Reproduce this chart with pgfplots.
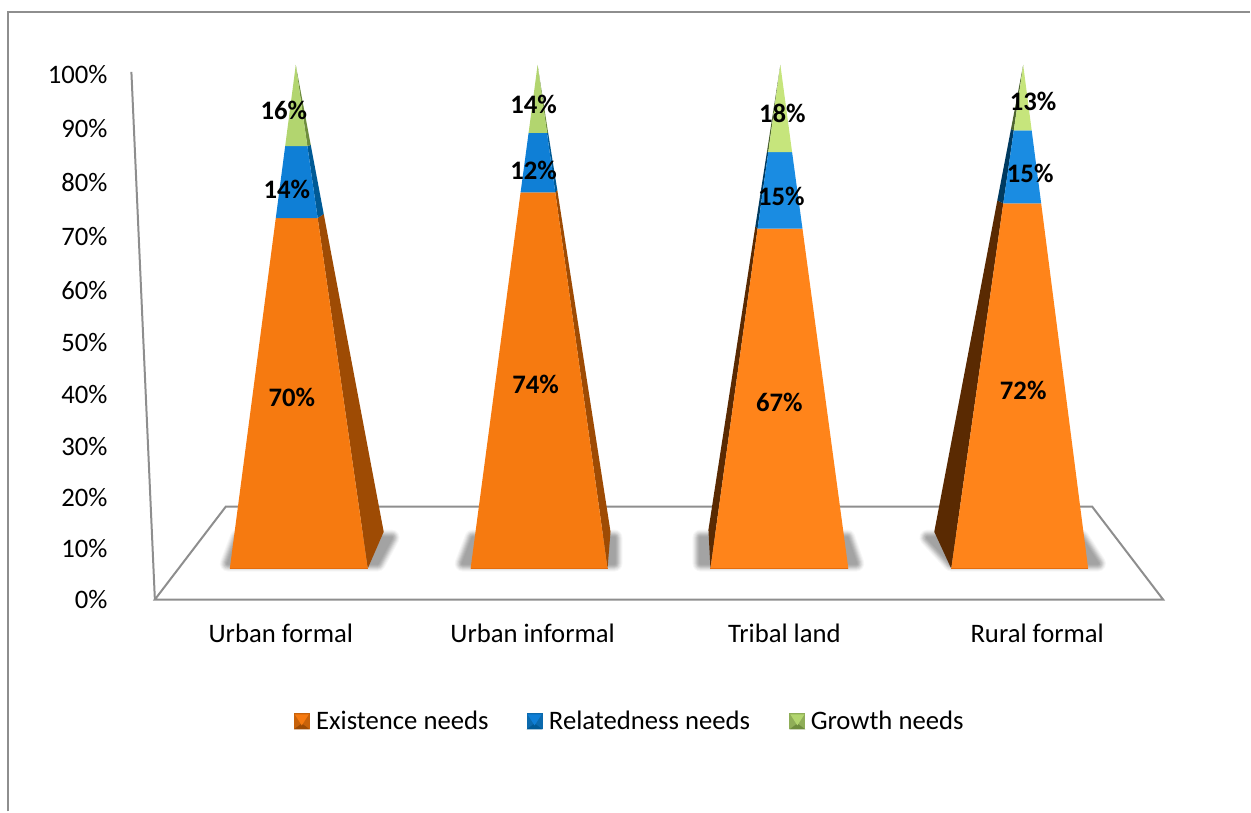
\documentclass[border=0pt]{standalone}
\usepackage{fontspec}
\setmainfont{Carlito}
\usepackage{pgfplots}
\usepackage{pgfplotstable}
\pgfplotsset{compat=1.18}

% x is in reference pixels, 1 px = 0.5pt
\pgfplotstableread{
x     y    v
292   33.9 70
287   75.2 14
284   90.9 16
536   36.5 74
534   79.0 12
534   92.1 14
780   32.9 67
782   73.8 15
783   90.3 18
1024  35.3 72
1031  78.4 15
1034  92.7 13
}\labeldata

\definecolor{axisgray}{HTML}{8E8E8E}
\definecolor{oA}{HTML}{F67A10}
\definecolor{oB}{HTML}{FF841A}
\definecolor{bA}{HTML}{0F7FD6}
\definecolor{bB}{HTML}{1A8CE2}
\definecolor{gA}{HTML}{B2D56F}
\definecolor{gB}{HTML}{C6E57C}
\definecolor{sideOA}{HTML}{9E4B04}
\definecolor{sideBA}{HTML}{005A96}
\definecolor{sideGA}{HTML}{6E8D3E}
\definecolor{sideOB}{HTML}{5A2A02}
\definecolor{sideBB}{HTML}{003A60}
\definecolor{sideGB}{HTML}{4D6430}
\definecolor{midO}{HTML}{C8620A}
\definecolor{midB}{HTML}{0B6AAE}
\definecolor{midG}{HTML}{8FAE58}
\definecolor{baseO}{HTML}{E56C0C}

% opaque layers, lightest and widest first, look like a soft edge on the white floor
\newcommand\shadowlayer[3]{%
  \addplot[draw=black!#2, fill=black!#2, line width=#1*0.5pt, line join=round]
    coordinates {#3} -- cycle;
}
\newcommand\floorshadow[1]{%
  \shadowlayer{16}{3}{#1}\shadowlayer{14}{7}{#1}\shadowlayer{12}{12}{#1}\shadowlayer{10}{18}{#1}%
  \shadowlayer{8}{24}{#1}\shadowlayer{6}{29}{#1}\shadowlayer{4}{33}{#1}\shadowlayer{2}{36}{#1}%
}
% left, middle, right, inner left, inner right, then light, mid, dark
\newcommand\swatch[8]{%
  \addplot[fill=#7, draw=none] coordinates {(#1,714) (#3,714) (#3,730) (#1,730)} -- cycle;
  \addplot[fill=#8, draw=none] coordinates {(#1,730) (#3,730) (#2,724)} -- cycle;
  \addplot[fill=#6, draw=none] coordinates {(#4,715) (#5,715) (#2,726)} -- cycle;
}

\pgfplotsset{canvas/.style={
  scale only axis, width=625.5pt, height=406pt, at={(0,0)}, anchor=south west,
  clip=false, xmin=0, xmax=1251}}

\begin{document}
\begin{tikzpicture}[font=\fontsize{13.35}{15}\selectfont]
% background: frame, walls, floor, shadows, y labels, legend
\begin{axis}[
    canvas,
    y dir=reverse,
    ymin=0, ymax=812,
    axis line style={draw=none},
    xtick=\empty,
    ytick={75,129,183,237,291,343,395,447,498,549,600},
    yticklabels={100\%,90\%,80\%,70\%,60\%,50\%,40\%,30\%,20\%,10\%,0\%},
    tick style={draw=none},
    major tick length=0pt,
    yticklabel style={anchor=east, inner sep=0pt, xshift=54pt},
]
\addplot[draw=axisgray, line width=1pt] coordinates {(8,812) (8,12) (1251,12)};
\addplot[draw=axisgray, line width=1pt] coordinates {(131.5,72) (155,600)};
\addplot[draw=axisgray, line width=1pt, line join=miter] coordinates {(155,600) (1164,600) (1093,507) (226,507)} -- cycle;
\floorshadow{(228,564) (238,538) (392,538) (378,564)}
\floorshadow{(463,564) (473,538) (615,538) (615,564)}
\floorshadow{(701,564) (701,538) (848,538) (857,564)}
\floorshadow{(952,564) (928,538) (1082,538) (1099,564)}
\node at (axis cs:281,634) {Urban formal};
\node at (axis cs:533,634) {Urban informal};
\node at (axis cs:785,634) {Tribal land};
\node at (axis cs:1038,634) {Rural formal};
\swatch{294}{302}{310}{295}{309}{oA}{midO}{sideOA}
\swatch{527}{535}{543}{528}{542}{bA}{midB}{sideBA}
\swatch{790}{798}{806}{791}{805}{gA}{midG}{sideGA}
\node[anchor=west, inner sep=0pt] at (axis cs:316,721) {Existence needs};
\node[anchor=west, inner sep=0pt] at (axis cs:549,721) {Relatedness needs};
\node[anchor=west, inner sep=0pt] at (axis cs:811,721) {Growth needs};
\end{axis}

% pyramids: y is the stacked share in percent
\begin{axis}[
    canvas,
    hide axis,
    ymin=-48.21, ymax=112.90,
]
% Urban formal
\addplot[fill=sideOA, draw=none] coordinates {(368,0) (384,7.3) (324,70.4) (317.9,69.6)} -- cycle;
\addplot[fill=sideBA, draw=none] coordinates {(317.9,69.6) (324,70.4) (311,84.1) (307.6,83.9)} -- cycle;
\addplot[fill=sideGA, draw=none] coordinates {(307.6,83.9) (311,84.1) (296,100)} -- cycle;
\addplot[fill=oA, draw=none] coordinates {(230,0) (368,0) (317.9,69.6) (276,69.6)} -- cycle;
\addplot[fill=bA, draw=none] coordinates {(276,69.6) (317.9,69.6) (307.6,83.9) (285.4,83.9)} -- cycle;
\addplot[fill=gA, draw=none] coordinates {(285.4,83.9) (307.6,83.9) (296,100)} -- cycle;
\addplot[draw=baseO, line width=0.5pt] coordinates {(230,0) (368,0)};
% Urban informal
\addplot[fill=sideOA, draw=none] coordinates {(608,0) (611,7.3) (557.7,75.2) (555.7,74.7)} -- cycle;
\addplot[fill=sideBA, draw=none] coordinates {(555.7,74.7) (557.7,75.2) (548.6,86.5) (547.4,86.5)} -- cycle;
\addplot[fill=sideGA, draw=none] coordinates {(547.4,86.5) (548.6,86.5) (538,100)} -- cycle;
\addplot[fill=oA, draw=none] coordinates {(471,0) (608,0) (555.7,74.7) (521,74.7)} -- cycle;
\addplot[fill=bA, draw=none] coordinates {(521,74.7) (555.7,74.7) (547.4,86.5) (529,86.5)} -- cycle;
\addplot[fill=gA, draw=none] coordinates {(529,86.5) (547.4,86.5) (538,100)} -- cycle;
\addplot[draw=baseO, line width=0.5pt] coordinates {(471,0) (608,0)};
% Tribal land
\addplot[fill=sideOB, draw=none] coordinates {(711,0) (709,7.7) (755.9,67.9) (758.2,67.5)} -- cycle;
\addplot[fill=sideBB, draw=none] coordinates {(758.2,67.5) (755.9,67.9) (767.5,82.7) (768.9,82.7)} -- cycle;
\addplot[fill=sideGB, draw=none] coordinates {(768.9,82.7) (767.5,82.7) (781,100)} -- cycle;
\addplot[fill=oB, draw=none] coordinates {(711,0) (849,0) (803.1,67.5) (758.2,67.5)} -- cycle;
\addplot[fill=bB, draw=none] coordinates {(758.2,67.5) (803.1,67.5) (792.7,82.7) (768.9,82.7)} -- cycle;
\addplot[fill=gB, draw=none] coordinates {(768.9,82.7) (792.7,82.7) (781,100)} -- cycle;
\addplot[draw=baseO, line width=0.5pt] coordinates {(711,0) (849,0)};
% Rural formal
\addplot[fill=sideOB, draw=none] coordinates {(952,0) (935,7.3) (998.1,73.1) (1004.1,72.5)} -- cycle;
\addplot[fill=sideBB, draw=none] coordinates {(1004.1,72.5) (998.1,73.1) (1011.8,87.3) (1014.6,87)} -- cycle;
\addplot[fill=sideGB, draw=none] coordinates {(1014.6,87) (1011.8,87.3) (1024,100)} -- cycle;
\addplot[fill=oB, draw=none] coordinates {(952,0) (1089,0) (1042,72.5) (1004.1,72.5)} -- cycle;
\addplot[fill=bB, draw=none] coordinates {(1004.1,72.5) (1042,72.5) (1032.5,87) (1014.6,87)} -- cycle;
\addplot[fill=gB, draw=none] coordinates {(1014.6,87) (1032.5,87) (1024,100)} -- cycle;
\addplot[draw=baseO, line width=0.5pt] coordinates {(952,0) (1089,0)};
% value labels
\addplot[only marks, mark=none, point meta=explicit,
    /pgf/number format/assume math mode=true,
    nodes near coords={\pgfmathprintnumber[precision=0]{\pgfplotspointmeta}\%},
    nodes near coords style={anchor=center, inner sep=0pt, font=\fontsize{13.35}{15}\selectfont\bfseries},
] table[x=x, y=y, meta=v] {\labeldata};
\end{axis}
\end{tikzpicture}
\end{document}
